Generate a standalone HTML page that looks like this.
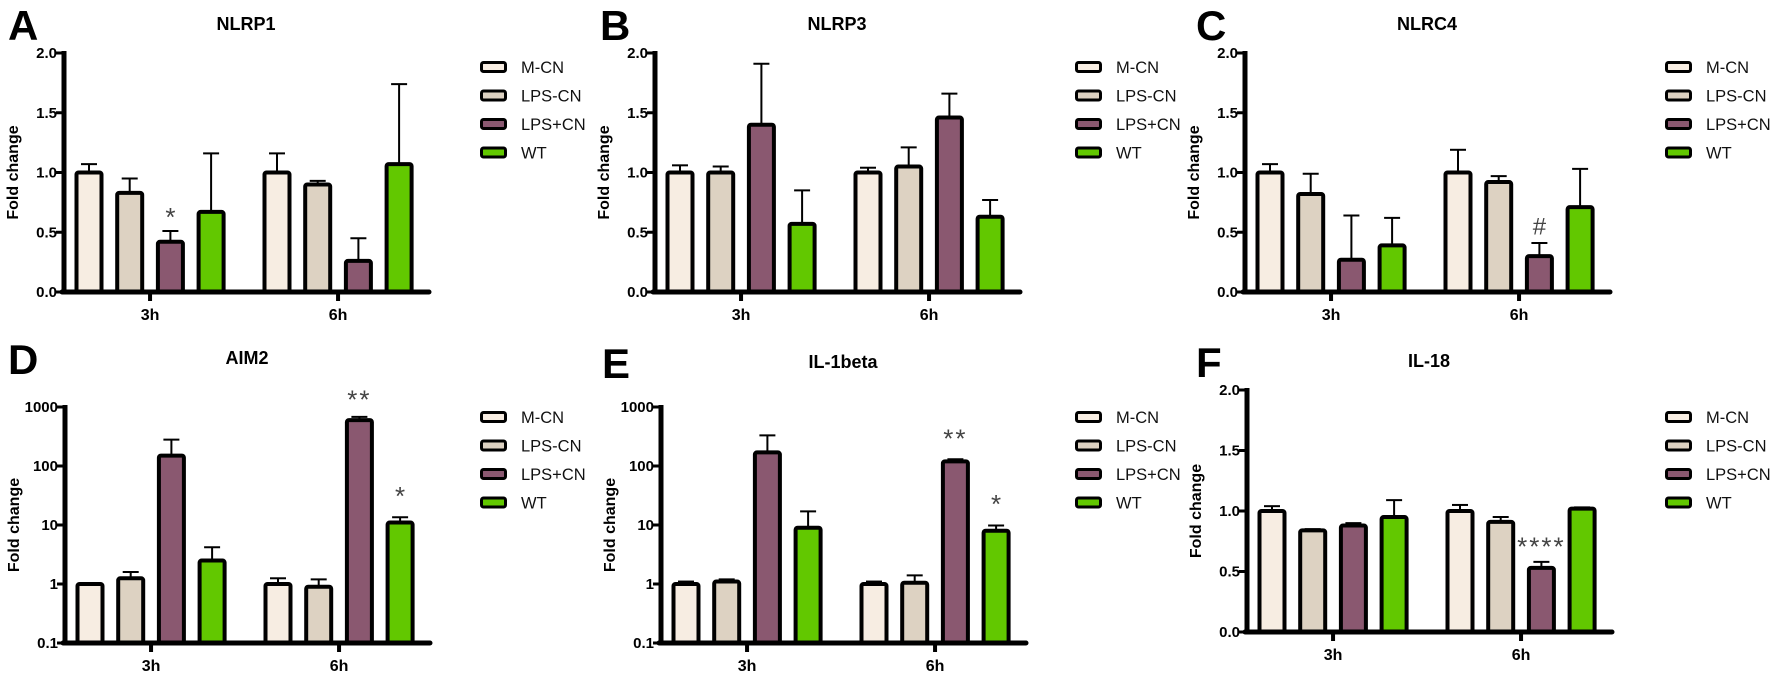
<!DOCTYPE html>
<html><head><meta charset="utf-8"><style>
body{margin:0;background:#fff;width:1772px;height:676px;overflow:hidden}
svg{display:block;font-family:"Liberation Sans",Arial,sans-serif}
</style></head><body>
<svg id="fig" width="1772" height="676" viewBox="0 0 1772 676"></svg>
<script>
const groups = ["3h","6h"];
const seriesNames = ["M-CN","LPS-CN","LPS+CN","WT"];
const seriesColors = ["#f7ede2","#ddd2c2","#8a5870","#62c800"];
const linearTicks = ["0.0","0.5","1.0","1.5","2.0"];
const logTicks = ["0.1","1","10","100","1000"];
const nlrp1Vals = [[1.0,0.83,0.42,0.67],[1.0,0.9,0.26,1.07]];
const nlrp1Errs = [[1.07,0.95,0.51,1.16],[1.16,0.93,0.45,1.74]];
const nlrp3Vals = [[1.0,1.0,1.4,0.57],[1.0,1.05,1.46,0.63]];
const nlrp3Errs = [[1.06,1.05,1.91,0.85],[1.04,1.21,1.66,0.77]];
const nlrc4Vals = [[1.0,0.82,0.27,0.39],[1.0,0.92,0.3,0.71]];
const nlrc4Errs = [[1.07,0.99,0.64,0.62],[1.19,0.97,0.41,1.03]];
const aim2Vals = [[1,1.25,150,2.5],[1,0.9,600,11]];
const aim2Errs = [[1,1.6,280,4.2],[1.25,1.2,680,13.5]];
const il1bVals = [[1,1.1,170,9],[1,1.05,120,8]];
const il1bErrs = [[1.1,1.2,330,17],[1.1,1.4,130,9.8]];
const il18Vals = [[1.0,0.84,0.88,0.95],[1.0,0.91,0.53,1.02]];
const il18Errs = [[1.04,0.85,0.9,1.09],[1.05,0.95,0.58,1.03]];

const NS="http://www.w3.org/2000/svg";
const svg=document.getElementById('fig');
function mk(tag,attrs,parent){const e=document.createElementNS(NS,tag);for(const k in attrs)e.setAttribute(k,attrs[k]);(parent||svg).appendChild(e);return e;}

const panels=[
 {letter:"A",title:"NLRP1",ax:64,top:53,zero:292,log:false,vals:nlrp1Vals,errs:nlrp1Errs,legX:480,legY:67,lx:8,ly:40,marks:[{g:0,s:2,t:"*",v:0.62}]},
 {letter:"B",title:"NLRP3",ax:655,top:53,zero:292,log:false,vals:nlrp3Vals,errs:nlrp3Errs,legX:1075,legY:67,lx:600,ly:40,marks:[]},
 {letter:"C",title:"NLRC4",ax:1245,top:53,zero:292,log:false,vals:nlrc4Vals,errs:nlrc4Errs,legX:1665,legY:67,lx:1196,ly:40,marks:[{g:1,s:2,t:"#",v:0.55}]},
 {letter:"D",title:"AIM2",ax:65,top:407,zero:643,log:true,vals:aim2Vals,errs:aim2Errs,legX:480,legY:417,lx:8,ly:374,marks:[{g:1,s:2,t:"**",v:1300},{g:1,s:3,t:"*",v:30}]},
 {letter:"E",title:"IL-1beta",ax:661,top:407,zero:643,log:true,vals:il1bVals,errs:il1bErrs,legX:1075,legY:417,lx:602,ly:378,marks:[{g:1,s:2,t:"**",v:280},{g:1,s:3,t:"*",v:22}]},
 {letter:"F",title:"IL-18",ax:1247,top:390,zero:632,log:false,vals:il18Vals,errs:il18Errs,legX:1665,legY:417,lx:1196,ly:377,marks:[{g:1,s:2,t:"****",v:0.7}]}
];

panels.forEach((p,pi)=>{
  const g=mk('g',{});
  
  
  const ticks=p.log?logTicks:linearTicks;
  const yScale=v=>{
    if(p.log){const lo=Math.log10(0.1),hi=Math.log10(1000);return p.zero-(Math.log10(v)-lo)/(hi-lo)*(p.zero-p.top);}
    return p.zero-(v/2)*(p.zero-p.top);
  };
  const x0=p.ax, xEnd=p.ax+365;
  const bx=(gi,si)=>x0+25+gi*188+si*40.7;
  const L=mk('text',{x:p.lx,y:p.ly,'font-size':42,'font-weight':'bold',fill:'#000'},g);L.textContent=p.letter;
  
  const T=mk('text',{x:x0+182,y:p.ly-10,'font-size':18,'font-weight':'bold','text-anchor':'middle',fill:'#000'},g);T.textContent=p.title;
  
  p.vals.forEach((arr,gi)=>arr.forEach((v,si)=>{
    const cx=bx(gi,si), y=yScale(v), ye=yScale(p.errs[gi][si]);
    const e=mk('line',{x1:cx,x2:cx,y1:ye,y2:y,stroke:'#000','stroke-width':2},g);
    
    const c=mk('line',{x1:cx-8,x2:cx+8,y1:ye,y2:ye,stroke:'#000','stroke-width':2},g);
    
    const r=mk('rect',{x:cx-12.5,y:y,width:25,height:Math.max(0,p.zero-y),fill:seriesColors[si],stroke:'#000','stroke-width':4,rx:2},g);
    
    
  }));
  p.marks.forEach(m=>{
    const t=mk('text',{x:bx(m.g,m.s),y:yScale(m.v)+8,'font-size':m.t==='#'?24:26,'text-anchor':'middle',fill:'#444','letter-spacing':m.t.length>1?2:0},g);
    t.textContent=m.t;
  });
  const ya=mk('line',{x1:x0,x2:x0,y1:p.top-2,y2:p.zero+2,stroke:'#000','stroke-width':5},g);
  
  const xa=mk('line',{x1:x0-2,x2:xEnd,y1:p.zero,y2:p.zero,stroke:'#000','stroke-width':5,'stroke-linecap':'round'},g);
  
  ticks.forEach((tk,i)=>{
    const y=yScale(parseFloat(tk));
    mk('line',{x1:x0-8,x2:x0,y1:y,y2:y,stroke:'#000','stroke-width':3},g);
    const t=mk('text',{x:x0-7,y:y+5,'font-size':15,'font-weight':'bold','text-anchor':'end',fill:'#000'},g);
    t.textContent=tk;
  });
  groups.forEach((gn,gi)=>{
    const gx=(bx(gi,0)+bx(gi,3))/2;
    mk('line',{x1:gx,x2:gx,y1:p.zero,y2:p.zero+9,stroke:'#000','stroke-width':4},g);
    const t=mk('text',{x:gx,y:p.zero+28,'font-size':16,'font-weight':'bold','text-anchor':'middle',fill:'#000'},g);
    t.textContent=gn;
  });
  const yc=(p.top+p.zero)/2;
  const yt=mk('text',{x:x0-46,y:yc,'font-size':16,'font-weight':'bold','text-anchor':'middle',fill:'#000',transform:`rotate(-90 ${x0-46} ${yc})`},g);
  yt.textContent='Fold change';
  seriesNames.forEach((n,i)=>{
    const y=p.legY+i*28.5;
    const lg=mk('g',{},g);
    
    mk('rect',{x:p.legX+1.5,y:y-4.5,width:24,height:9,rx:2,fill:seriesColors[i],stroke:'#000','stroke-width':3},lg);
    const t=mk('text',{x:p.legX+41,y:y+6,'font-size':16.5,fill:'#111'},lg);t.textContent=n;
  });
});
</script>
</body></html>
